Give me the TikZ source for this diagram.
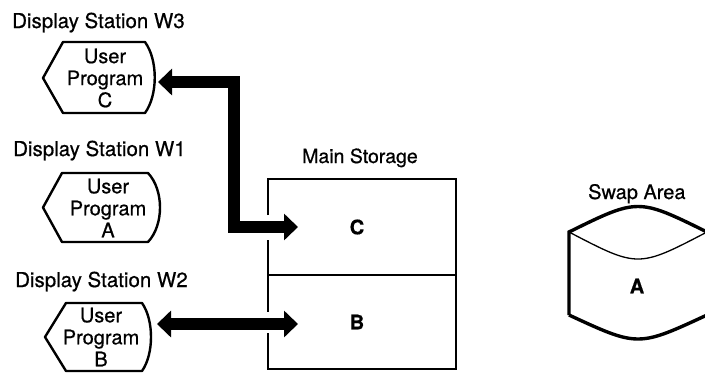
\documentclass[tikz,border=0pt]{standalone}
\usepackage{fontspec}
\setmainfont[FakeBold=0.6]{TeX Gyre Heros}
\usetikzlibrary{arrows.meta}
\begin{document}
\begin{tikzpicture}[x=1pt,y=-1pt,
  lbl/.style={font=\fontsize{20.5}{24}\selectfont, inner sep=0pt, anchor=base west},
  prog/.style={font=\fontsize{20}{22}\selectfont, align=center, inner sep=0pt, anchor=center},
  big/.style={font=\fontsize{20}{24}\selectfont\bfseries, inner sep=0pt, anchor=center},
  dshape/.style={line width=2.4pt, line join=round},
  fat/.style={line width=12pt, line join=miter, {Triangle[width=26pt,length=14pt]}-{Triangle[width=26pt,length=14pt]}}
]
\useasboundingbox (0,0) rectangle (705,373);
\begin{scope}
\clip (0,0) rectangle (705,373);

% --- Display station W3
\node[lbl] (t3) at (12,28) {Display Station W3};
\draw[dshape] (43,78) -- (63,42) -- (145,42) .. controls (158,60) and (158,95) .. (145,113) -- (63,113) -- cycle;
\node[prog] (w3) at (105,78) {User\\Program\\C};
\coordinate (w3r) at (158,82);

% --- Display station W1
\node[lbl] (t1) at (13,156) {Display Station W1};
\draw[dshape] (43,207.5) -- (62,173) -- (148,173) .. controls (164,190) and (164,225) .. (148,242) -- (62,242) -- cycle;
\node[prog] (w1) at (108,208) {User\\Program\\A};

% --- Display station W2
\node[lbl] (t2) at (15,287) {Display Station W2};
\draw[dshape] (45,337) -- (66,303) -- (142,303) .. controls (154,320) and (154,354) .. (142,371) -- (66,371) -- cycle;
\node[prog] (w2) at (101,337) {User\\Program\\B};
\coordinate (w2r) at (157,324);

% --- Main storage
\node[lbl,font=\fontsize{19.5}{24}\selectfont] (ms) at (302,163) {Main Storage};
\coordinate (mtl) at (268,179);
\coordinate (mtr) at (456,179);
\coordinate (mbr) at (456,369);
\coordinate (mbl) at (268,369);
\draw[line width=2.8pt, line join=miter] (268,215) -- (mtl) -- (mtr) -- (mbr) -- (mbl) -- (268,333);
\draw[line width=2.8pt] (268,240) -- (268,312);
\draw[line width=1.6pt] (268,275) -- (456,275);
\node[big] (c) at (357,227) {C};
\node[big] (b) at (357,322) {B};
\coordinate (cin) at (298,227);
\coordinate (bin) at (298,324);

% --- Arrows
\draw[fat] (w3r) -- (234,82) |- (cin);
\draw[fat] (w2r) -- (bin);

% --- Swap area
\node[lbl,font=\fontsize{20}{24}\selectfont] (sw) at (588,199) {Swap Area};
\draw[line width=3.4pt] (569,315) -- (569,232) .. controls (638,198) .. (707,232);
\draw[line width=1.3pt] (569,232) .. controls (638,268) .. (707,232);
\draw[line width=3.4pt] (569,315) .. controls (638,347) .. (707,315);
\node[big] (a) at (637,286) {A};
\end{scope}
\end{tikzpicture}
\end{document}
